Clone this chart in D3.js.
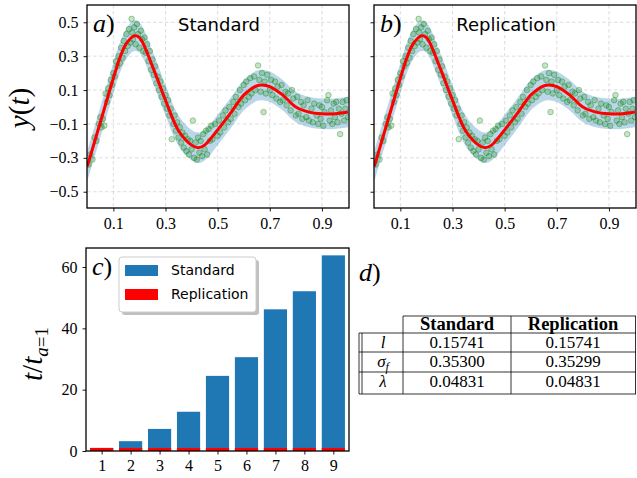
<!DOCTYPE html>
<html>
<head>
<meta charset="utf-8">
<script src="https://cdnjs.cloudflare.com/ajax/libs/d3/7.8.5/d3.min.js"></script>
<style>
  body { margin: 0; background: #ffffff; }
  text { font-family: "Liberation Serif", serif; }
  .sans { font-family: "DejaVu Sans", sans-serif; }
</style>
</head>
<body>
<svg id="fig" width="637" height="478"></svg>
<script>
// posterior mean
var meanX = [0, 0.05, 0.1, 0.125, 0.15, 0.18, 0.2, 0.25, 0.3, 0.35, 0.4, 0.425, 0.45, 0.5,
             0.55, 0.6, 0.65, 0.67, 0.7, 0.75, 0.8, 0.85, 0.9, 0.95, 1.0];
var meanY = [-0.35, -0.09, 0.17, 0.29, 0.375, 0.42, 0.41, 0.24, 0.04, -0.14, -0.225, -0.24, -0.225, -0.135,
             -0.035, 0.07, 0.125, 0.13, 0.12, 0.07, 0.0, -0.03, -0.04, -0.04, -0.03];
var bandHalf = [0.09, 0.09, 0.09, 0.09, 0.09, 0.09, 0.09, 0.09, 0.09, 0.09, 0.09, 0.09, 0.09, 0.09,
                0.09, 0.09, 0.09, 0.09, 0.09, 0.09, 0.09, 0.09, 0.09, 0.09, 0.09];

// observations (same data in both panels)
var obsX = [0.005,0.012,0.02,0.028,0.035,0.045,0.05,0.055,0.06,0.065,0.07,0.075,0.08,0.085,0.09,0.095,
  0.1,0.105,0.11,0.115,0.12,0.125,0.13,0.135,0.14,0.145,0.15,0.155,0.16,0.165,0.17,0.172,0.175,0.18,
  0.185,0.19,0.195,0.2,0.205,0.21,0.215,0.22,0.225,0.23,0.235,0.24,0.245,0.25,0.255,0.26,0.265,0.27,
  0.275,0.28,0.285,0.29,0.295,0.3,0.305,0.31,0.315,0.32,0.324,0.33,0.335,0.34,0.345,0.35,0.355,0.36,
  0.365,0.37,0.375,0.38,0.385,0.39,0.395,0.4,0.405,0.41,0.415,0.42,0.425,0.43,0.435,0.44,0.445,0.45,
  0.455,0.46,0.465,0.47,0.475,0.48,0.49,0.5,0.505,0.51,0.52,0.525,0.53,0.54,0.545,0.55,0.56,0.565,
  0.57,0.58,0.585,0.59,0.6,0.605,0.61,0.62,0.625,0.63,0.64,0.645,0.655,0.66,0.665,0.67,0.676,0.68,
  0.685,0.69,0.7,0.705,0.71,0.72,0.725,0.73,0.74,0.745,0.75,0.76,0.765,0.77,0.78,0.785,0.79,0.8,
  0.805,0.81,0.82,0.825,0.83,0.84,0.845,0.85,0.86,0.865,0.87,0.88,0.885,0.89,0.895,0.9,0.905,0.91,
  0.92,0.925,0.93,0.935,0.94,0.945,0.95,0.955,0.96,0.965,0.97,0.975,0.98,0.985,0.99,0.995,1.0];
var obsY = [-0.34,-0.28,-0.31,-0.18,-0.2,-0.1,-0.06,-0.12,-0.07,-0.11,0.08,0.03,0.11,0.07,0.16,0.13,
  0.2,0.18,0.27,0.24,0.3,0.26,0.35,0.29,0.39,0.33,0.43,0.36,0.46,0.38,0.52,0.44,0.4,0.47,
  0.37,0.49,0.43,0.35,0.45,0.4,0.33,0.41,0.32,0.37,0.27,0.33,0.22,0.28,0.19,0.24,0.14,0.18,
  0.1,0.15,0.06,0.11,0.02,0.07,-0.01,0.04,-0.05,-0.01,-0.19,-0.1,-0.05,-0.14,-0.09,-0.18,-0.12,-0.21,
  -0.15,-0.24,-0.17,-0.26,-0.19,-0.28,-0.2,-0.25,-0.08,-0.3,-0.21,-0.31,-0.18,-0.27,-0.2,-0.29,-0.16,-0.25,
  -0.14,-0.28,-0.13,-0.2,-0.11,-0.19,-0.1,-0.17,-0.08,-0.15,-0.05,-0.12,-0.02,-0.09,0.0,-0.07,0.03,-0.04,
  0.06,0.0,0.1,0.02,0.13,0.04,0.15,0.06,0.17,0.08,0.18,0.1,0.245,0.16,0.09,0.2,-0.03,0.15,
  0.08,0.19,0.1,0.16,0.07,0.15,0.05,0.12,0.03,0.13,0.04,0.09,0.01,0.08,-0.02,0.1,0.05,-0.05,
  0.06,-0.04,0.03,-0.07,0.01,-0.06,0.04,-0.08,-0.01,-0.09,0.02,-0.05,-0.1,0.01,-0.07,0.0,-0.11,-0.03,
  0.04,0.07,-0.08,-0.02,-0.1,0.02,-0.06,0.03,-0.09,-0.01,-0.16,-0.04,0.03,-0.08,-0.01,0.04,-0.06];

var yTicks = [-0.5, -0.3, -0.1, 0.1, 0.3, 0.5];
var xTicks = [0.1, 0.3, 0.5, 0.7, 0.9];

// panel c
var dimensions = [1, 2, 3, 4, 5, 6, 7, 8, 9];
var standardTimes = [1.0, 3.2, 7.2, 12.8, 24.5, 30.6, 46.2, 52.1, 63.8];
var replicationTimes = [1.0, 1.0, 1.0, 1.0, 1.0, 1.0, 1.0, 1.0, 1.0];
var barTicks = [0, 20, 40, 60];

// panel d
var paramNames = ["l", "σ", "λ"];
var paramSubs = ["", "f", ""];
var standardParams = ["0.15741", "0.35300", "0.04831"];
var replicationParams = ["0.15741", "0.35299", "0.04831"];

var svg = d3.select("#fig");
var fmt = d3.format(".1f");

var meanData = meanX.map(function(x, i) { return {x: x, y: meanY[i], h: bandHalf[i]}; });
var obsData = obsX.map(function(x, i) { return {x: x, y: obsY[i]}; });

function styleAxis(a) {
    a.select(".domain").remove();
    a.selectAll("text").attr("font-family", "Liberation Serif, serif").attr("font-size", 16).attr("fill", "#000");
    a.selectAll("line").attr("stroke", "#000").attr("stroke-width", 0.9);
}

function panelLetter(g, x, y, letter) {
    var lt = g.append("text").attr("x", x).attr("y", y).attr("font-size", 26);
    lt.append("tspan").attr("font-style", "italic").text(letter);
    lt.append("tspan").text(")");
}

function drawGpPanel(id, left, right, top, bottom, letter, title, showYLabels) {
    var x = d3.scaleLinear().domain([0, 1]).range([left + 0.3, right - 1]);
    var y = d3.scaleLinear().domain([-0.596, 0.602]).range([bottom, top]);
    var g = svg.append("g");

    g.append("clipPath").attr("id", "clip" + id).append("rect")
        .attr("x", left).attr("y", top).attr("width", right - left).attr("height", bottom - top);

    // grid
    g.selectAll(".gx").data(xTicks).enter().append("line")
        .attr("x1", function(d) { return x(d); }).attr("x2", function(d) { return x(d); })
        .attr("y1", top).attr("y2", bottom)
        .attr("stroke", "#b0b0b0").attr("stroke-opacity", 0.55).attr("stroke-width", 0.8).attr("stroke-dasharray", "3.5,2.5");
    g.selectAll(".gy").data(yTicks).enter().append("line")
        .attr("x1", left).attr("x2", right)
        .attr("y1", function(d) { return y(d); }).attr("y2", function(d) { return y(d); })
        .attr("stroke", "#b0b0b0").attr("stroke-opacity", 0.55).attr("stroke-width", 0.8).attr("stroke-dasharray", "3.5,2.5");

    var plot = g.append("g").attr("clip-path", "url(#clip" + id + ")");

    var band = d3.area().curve(d3.curveCatmullRom)
        .x(function(d) { return x(d.x); })
        .y0(function(d) { return y(d.y - d.h); })
        .y1(function(d) { return y(d.y + d.h); });
    plot.append("path").datum(meanData).attr("d", band)
        .attr("fill", "#1f77b4").attr("fill-opacity", 0.3);

    plot.selectAll("circle").data(obsData).enter().append("circle")
        .attr("cx", function(d) { return x(d.x); })
        .attr("cy", function(d) { return y(d.y); })
        .attr("r", 2.8)
        .attr("fill", "#008000").attr("fill-opacity", 0.22)
        .attr("stroke", "#008000").attr("stroke-opacity", 0.38).attr("stroke-width", 0.9);

    var line = d3.line().curve(d3.curveCatmullRom)
        .x(function(d) { return x(d.x); })
        .y(function(d) { return y(d.y); });
    plot.append("path").datum(meanData).attr("d", line)
        .attr("fill", "none").attr("stroke", "#ff0000").attr("stroke-width", 3);

    // axes
    var ax = g.append("g").attr("transform", "translate(0," + bottom + ")")
        .call(d3.axisBottom(x).tickValues(xTicks).tickFormat(fmt).tickSize(3.5).tickPadding(6));
    var ay = g.append("g").attr("transform", "translate(" + left + ",0)")
        .call(d3.axisLeft(y).tickValues(yTicks).tickFormat(showYLabels ? fmt : "").tickSize(3.5).tickPadding(5));
    styleAxis(ax);
    styleAxis(ay);

    g.append("rect").attr("x", left).attr("y", top).attr("width", right - left).attr("height", bottom - top)
        .attr("fill", "none").attr("stroke", "#000").attr("stroke-width", 1.3);

    panelLetter(g, left + 6, top + 27, letter);

    g.append("text").attr("class", "sans").attr("x", (left + right) / 2 + 1)
        .attr("y", top + 26).attr("text-anchor", "middle").attr("font-size", 18).text(title);
}

drawGpPanel("a", 87, 349, 5, 208, "a", "Standard", true);
drawGpPanel("b", 374, 636, 5, 208, "b", "Replication", false);

// y(t) label
var yl = svg.append("text").attr("transform", "translate(29,108) rotate(-90)")
    .attr("text-anchor", "middle").attr("font-size", 29);
yl.append("tspan").attr("font-style", "italic").text("y");
yl.append("tspan").text("(");
yl.append("tspan").attr("font-style", "italic").text("t");
yl.append("tspan").text(")");

// panel c: bars
(function() {
    var left = 86, right = 349, top = 248, bottom = 451;
    var x = d3.scaleLinear().domain([0.46, 9.54]).range([left, right]);
    var y = d3.scaleLinear().domain([0, 66.2]).range([bottom, top]);
    var bw = x(0.8) - x(0);
    var g = svg.append("g");

    g.selectAll(".std").data(dimensions).enter().append("rect")
        .attr("x", function(d) { return x(d) - bw / 2; })
        .attr("y", function(d, i) { return y(standardTimes[i]); })
        .attr("width", bw)
        .attr("height", function(d, i) { return y(0) - y(standardTimes[i]); })
        .attr("fill", "#1f77b4");
    g.selectAll(".rep").data(dimensions).enter().append("rect")
        .attr("x", function(d) { return x(d) - bw / 2; })
        .attr("y", function(d, i) { return y(replicationTimes[i]); })
        .attr("width", bw)
        .attr("height", function(d, i) { return y(0) - y(replicationTimes[i]); })
        .attr("fill", "#ff0000");

    var ax = g.append("g").attr("transform", "translate(0," + bottom + ")")
        .call(d3.axisBottom(x).tickValues(dimensions).tickFormat(d3.format("d")).tickSize(3.5).tickPadding(5));
    var ay = g.append("g").attr("transform", "translate(" + left + ",0)")
        .call(d3.axisLeft(y).tickValues(barTicks).tickFormat(d3.format("d")).tickSize(3.5).tickPadding(5));
    styleAxis(ax);
    styleAxis(ay);

    g.append("rect").attr("x", left).attr("y", top).attr("width", right - left).attr("height", bottom - top)
        .attr("fill", "none").attr("stroke", "#000").attr("stroke-width", 1.3);

    panelLetter(g, left + 6, top + 27, "c");

    // legend
    var lg = g.append("g").attr("transform", "translate(119,257)");
    lg.append("rect").attr("x", 3).attr("y", 3).attr("width", 137).attr("height", 55).attr("rx", 3)
        .attr("fill", "#808080").attr("fill-opacity", 0.5);
    lg.append("rect").attr("width", 137).attr("height", 55).attr("rx", 3)
        .attr("fill", "#ffffff").attr("stroke", "#cccccc").attr("stroke-width", 1);
    var entries = [{name: "Standard", color: "#1f77b4"}, {name: "Replication", color: "#ff0000"}];
    entries.forEach(function(e, i) {
        lg.append("rect").attr("x", 6).attr("y", 8 + i * 24).attr("width", 33).attr("height", 11).attr("fill", e.color);
        lg.append("text").attr("class", "sans").attr("x", 52).attr("y", 18 + i * 24)
            .attr("font-size", 14).text(e.name);
    });

    var yl = g.append("text").attr("transform", "translate(42,354) rotate(-90)")
        .attr("text-anchor", "middle").attr("font-size", 29);
    yl.append("tspan").attr("font-style", "italic").text("t");
    yl.append("tspan").text("/");
    yl.append("tspan").attr("font-style", "italic").text("t");
    yl.append("tspan").attr("font-size", 19).attr("dy", 6).attr("font-style", "italic").text("a");
    yl.append("tspan").attr("font-size", 19).text("=1");
})();

// panel d: table
(function() {
    var g = svg.append("g");
    panelLetter(g, 359, 281, "d");

    var rowY = [316, 333, 352, 372, 394];
    var colX = [359, 403, 511, 636];
    var ln = function(x1, y1, x2, y2) {
        g.append("line").attr("x1", x1).attr("y1", y1).attr("x2", x2).attr("y2", y2)
            .attr("stroke", "#000").attr("stroke-width", 0.8);
    };
    ln(colX[1], rowY[0], colX[3], rowY[0]);
    for (var r = 1; r < rowY.length; r++) ln(colX[0], rowY[r], colX[3], rowY[r]);
    ln(colX[0], rowY[1], colX[0], rowY[4]);
    ln(colX[0] + 3, rowY[1], colX[0] + 3, rowY[4]);
    ln(colX[1], rowY[0], colX[1], rowY[4]);
    ln(colX[2], rowY[0], colX[2], rowY[4]);
    ln(colX[3] - 0.5, rowY[0], colX[3] - 0.5, rowY[4]);

    g.append("text").attr("x", 457).attr("y", 330).attr("text-anchor", "middle")
        .attr("font-size", 18.5).attr("font-weight", "bold").text("Standard");
    g.append("text").attr("x", 573).attr("y", 330).attr("text-anchor", "middle")
        .attr("font-size", 18.5).attr("font-weight", "bold").text("Replication");

    paramNames.forEach(function(p, i) {
        var by = rowY[i + 1] + 15;
        var t = g.append("text").attr("x", 383).attr("y", by).attr("text-anchor", "middle")
            .attr("font-size", 17).attr("font-style", "italic");
        t.append("tspan").text(p);
        if (paramSubs[i]) t.append("tspan").attr("font-size", 12).attr("dy", 4).text(paramSubs[i]);
        g.append("text").attr("x", 457).attr("y", by).attr("text-anchor", "middle").attr("font-size", 17).text(standardParams[i]);
        g.append("text").attr("x", 573).attr("y", by).attr("text-anchor", "middle").attr("font-size", 17).text(replicationParams[i]);
    });
})();
</script>
</body>
</html>
